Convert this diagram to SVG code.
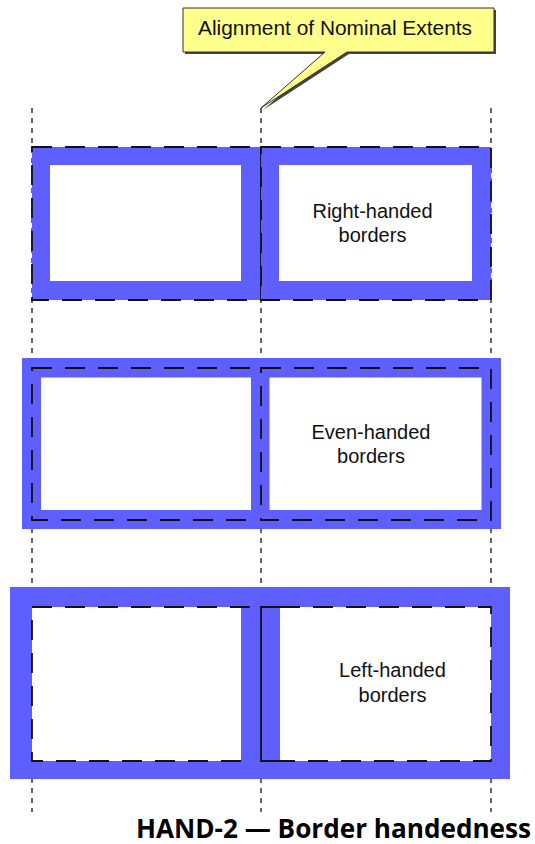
<svg xmlns="http://www.w3.org/2000/svg" width="535" height="844" viewBox="0 0 535 844">
<style>
.blue{fill:#5F5FFF}
.white{fill:#FFFFFF}
.nom{fill:none;stroke:#111;stroke-width:1.8;stroke-dasharray:20 13}
.solid{fill:none;stroke:#111;stroke-width:1.8}
.guide{fill:none;stroke:#333;stroke-width:1.5;stroke-dasharray:5 5}
.lbl{font-family:"Liberation Sans",Arial,sans-serif;font-size:20px;fill:#111;text-anchor:middle}
.title{font-family:"Open Sans","Noto Sans",sans-serif;font-size:27px;font-weight:bold;fill:#000}
</style>
<rect width="535" height="844" fill="#FFFFFF"/>
<g id="connectors">
<line class="guide" x1="32" y1="108" x2="32" y2="812"/>
<line class="guide" x1="261" y1="108" x2="261" y2="812"/>
<line class="guide" x1="491" y1="108" x2="491" y2="812"/>
</g>
<g id="callout">
<path d="M185,10 H496 V54 H349 L263,110 L327,54 H185 Z" fill="#444"/>
<path d="M183,8 H494 V52 H347 L261,108 L325,52 H183 Z" fill="#FFFF8C" stroke="#333" stroke-width="1"/>
<text x="335" y="35" style="font-family:'Liberation Sans',Arial,sans-serif;font-size:20px;fill:#111;text-anchor:middle" textLength="274" lengthAdjust="spacingAndGlyphs">Alignment of Nominal Extents</text>
</g>
<g id="right-handed-left">
<rect class="blue" x="32" y="147" width="229" height="153"/>
<rect class="white" x="50" y="165" width="191" height="116"/>
<rect class="nom" x="32" y="147" width="229" height="153"/>
</g>
<g id="right-handed-right">
<rect class="blue" x="261" y="147" width="230" height="153"/>
<rect class="white" x="279" y="165" width="193" height="116"/>
<rect class="nom" x="261" y="147" width="230" height="153"/>
<text class="lbl" x="372.5" y="217.5">Right-handed</text>
<text class="lbl" x="372.5" y="242">borders</text>
</g>
<g id="even-handed-left">
<rect class="blue" x="22" y="358" width="249" height="171"/>
<rect class="white" x="41" y="377.5" width="210" height="132.5"/>
<rect class="nom" x="32" y="368" width="229" height="152"/>
</g>
<g id="even-handed-right">
<rect class="blue" x="251" y="358" width="250" height="171"/>
<rect class="white" x="269.5" y="377.5" width="212" height="132.5"/>
<rect class="nom" x="261" y="368" width="230" height="152"/>
<text class="lbl" x="371" y="438.5">Even-handed</text>
<text class="lbl" x="371" y="463">borders</text>
</g>
<g id="left-handed-left">
<rect class="blue" x="10" y="587" width="251" height="192"/>
<rect class="white" x="32" y="607" width="209" height="154"/>
<path class="nom" d="M250,607 H32 V761 H250"/>
</g>
<g id="left-handed-right">
<rect class="blue" x="261" y="587" width="249" height="192"/>
<rect class="white" x="280" y="607" width="211" height="154"/>
<path class="solid" d="M280,607 H261 V761 H280"/>
<path class="nom" d="M280,607 H491 V761 H280"/>
<text class="lbl" x="392.5" y="677">Left-handed</text>
<text class="lbl" x="392.5" y="702">borders</text>
</g>
<g id="caption">
<text class="title" x="136" y="838" textLength="395" lengthAdjust="spacingAndGlyphs">HAND-2 — Border handedness</text>
</g>
</svg>
